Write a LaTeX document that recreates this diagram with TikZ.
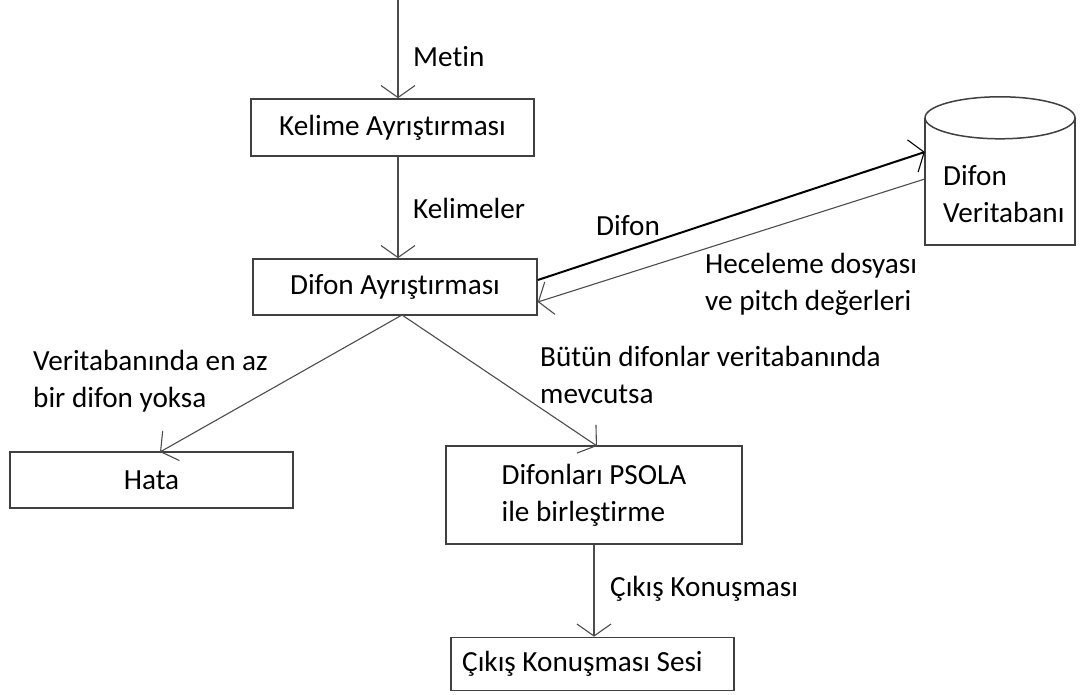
\documentclass[tikz,border=0pt]{standalone}
\usepackage{fontspec}
\setmainfont[Ligatures=NoCommon]{Carlito}
\usetikzlibrary{arrows.meta,calc}

\tikzset{
  stepbox/.style={draw=black!75, line width=1.6pt, rectangle, inner sep=0pt},
  flow/.style={draw=black!70, line width=1.1pt,
    -{Straight Barb[length=12pt,width=34pt,line width=1.1pt]}},
  lbl/.style={anchor=west, inner sep=0pt, align=left},
  every node/.style={font=\fontsize{29.2}{37}\selectfont, text=black}
}

\begin{document}
\begin{tikzpicture}[x=1pt,y=-1pt]
  \useasboundingbox (0,0) rectangle (1081,695);

  % process boxes
  \node[stepbox, minimum width=283pt, minimum height=57pt] (kelime) at (392.5,127.5) {Kelime Ayrıştırması};
  \node[stepbox, minimum width=284pt, minimum height=56pt] (difon) at (395,287) {Difon Ayrıştırması};
  \node[stepbox, minimum width=283pt, minimum height=56pt] (hata) at (151.5,480) {Hata};
  \node[stepbox, minimum width=296pt, minimum height=98pt, align=left] (psola) at (594,495)
    {Difonları PSOLA\\ile birleştirme};
  \node[stepbox, minimum width=283pt, minimum height=53pt] (sesi) at (592.5,664) {Çıkış Konuşması Sesi\hspace*{20pt}};

  % diphone database (cylinder)
  \node[minimum width=150pt, minimum height=148pt, inner sep=0pt] (db) at (1000,171) {};
  \draw[black!75, line width=1.5pt]
    ($(db.north west)+(0,21)$) -- (db.south west) -- (db.south east) -- ($(db.north east)+(0,21)$);
  \draw[black!75, line width=1.5pt] ($(db.north)+(0,21)$) ellipse [x radius=75, y radius=21];
  \node[lbl] (dbtxt) at (943,194) {Difon\\Veritabanı};

  % input and main chain
  \coordinate (in) at (398,0);
  \draw[flow] (in) -- (in |- kelime.north);
  \draw[flow] (in |- kelime.south) -- (in |- difon.north);

  % branches out of the diphone analysis
  \coordinate (split) at (402,315);
  \draw[flow] (split) -- (160,452) coordinate (hin);
  \draw[flow] (split) -- (597,446) coordinate (pin);
  \draw[flow] (psola.south) ++(0,0) coordinate (pout) -- (pout |- sesi.north);

  % exchange with the database
  \draw[black, line width=2pt, -{Straight Barb[length=12pt,width=34pt,line width=1.1pt]}]
    ($(difon.east)+(0,-7)$) -- ($(db.west)+(0,-19)$);
  \draw[flow] ($(db.west)+(0,8)$) -- ($(difon.east)+(0,15)$);

  % edge labels
  \node[lbl] (lmetin) at (413,57) {Metin};
  \node[lbl] (lkel) at (413,208) {Kelimeler};
  \node[lbl] (ldif) at (596,226) {Difon};
  \node[lbl] (lhec) at (705,284) {Heceleme dosyası\\ve pitch değerleri};
  \node[lbl] (lyok) at (33,381) {Veritabanında en az\\bir difon yoksa};
  \node[lbl] (lvar) at (540,375) {Bütün difonlar veritabanında\\mevcutsa};
  \node[lbl] (lcik) at (610,589) {Çıkış Konuşması};
\end{tikzpicture}
\end{document}
